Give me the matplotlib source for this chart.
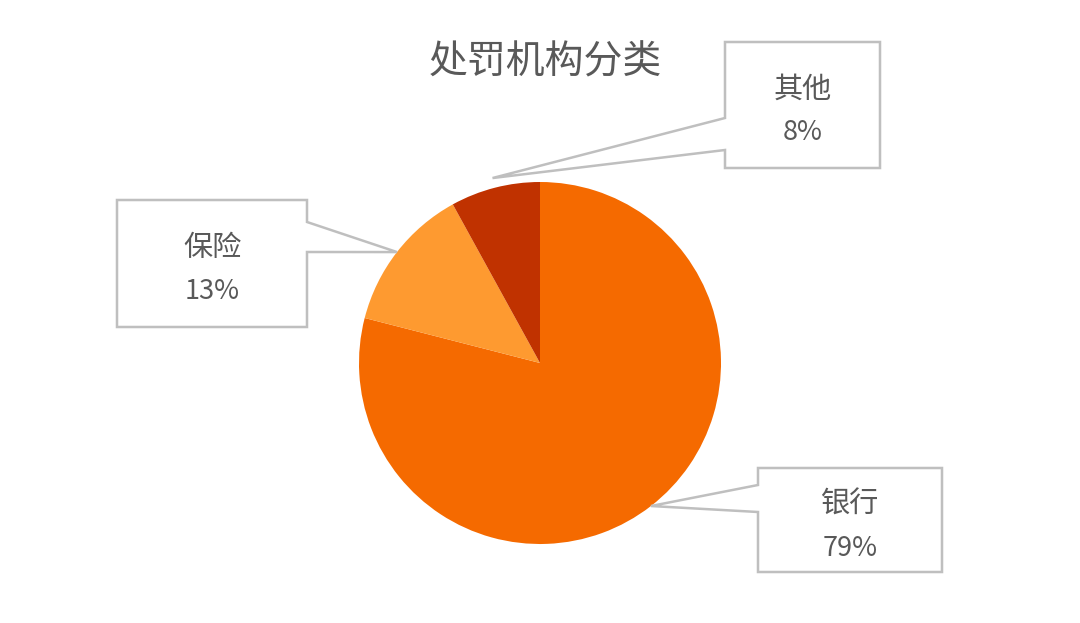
import numpy as np
import matplotlib
matplotlib.use("Agg")
import matplotlib.pyplot as plt
from matplotlib.patches import Polygon

plt.rcParams["font.family"] = ["Noto Sans CJK SC", "DejaVu Sans"]

# data
title = "处罚机构分类"
labels = ["银行", "保险", "其他"]
values = [79, 13, 8]
colors = ["#F56A00", "#FE9A30", "#C03200"]

# layout in pixels (origin top-left), y flipped below
W, H = 1080, 623
center_px = (540, 363)
radius_px = 181
# box: (left, top, right, bottom), pointer side, pointer y-range (top-origin), tip radius factor
boxes = {
    "其他": ((725, 42, 880, 168), "left", (118, 150), 1.055),
    "保险": ((117, 200, 307, 327), "right", (222, 252), 1.0),
    "银行": ((758, 468, 942, 572), "left", (485, 512), 1.0),
}
text_gray = "#595959"
box_gray = "#BFBFBF"


def fy(y):
    return H - y


fig = plt.figure(figsize=(10.8, 6.23), dpi=100)
ax = fig.add_axes([0, 0, 1, 1])

cx, cy = center_px[0], fy(center_px[1])
wedges, _ = ax.pie(values, colors=colors, startangle=90, counterclock=False,
                   center=(cx, cy), radius=radius_px, frame=True,
                   wedgeprops=dict(linewidth=0))
ax.set_xlim(0, W)
ax.set_ylim(0, H)
ax.set_aspect("equal")
ax.axis("off")

total = sum(values)
for w, lab, v in zip(wedges, labels, values):
    (l, t, r, b), side, (py1, py2), rf = boxes[lab]
    mid = np.deg2rad((w.theta1 + w.theta2) / 2)
    tip = (cx + rf * radius_px * np.cos(mid), cy + rf * radius_px * np.sin(mid))
    if side == "left":
        pts = [(l, fy(t)), (r, fy(t)), (r, fy(b)), (l, fy(b)),
               (l, fy(py2)), tip, (l, fy(py1))]
    else:
        pts = [(l, fy(t)), (r, fy(t)), (r, fy(py1)), tip, (r, fy(py2)),
               (r, fy(b)), (l, fy(b))]
    ax.add_patch(Polygon(pts, closed=True, facecolor="white",
                         edgecolor=box_gray, linewidth=1.8, zorder=3))
    xm = (l + r) / 2
    ym = (t + b) / 2
    ax.text(xm, fy(ym - 15), lab, ha="center", va="center",
            fontsize=21, color=text_gray, zorder=4)
    ax.text(xm, fy(ym + 28), f"{v / total * 100:.0f}%", ha="center",
            va="center", fontsize=19.5, color=text_gray, zorder=4)

ax.text(545, fy(62), title, ha="center", va="center", fontsize=28,
        color=text_gray)

fig.savefig("out.png", dpi=100, facecolor="white")
